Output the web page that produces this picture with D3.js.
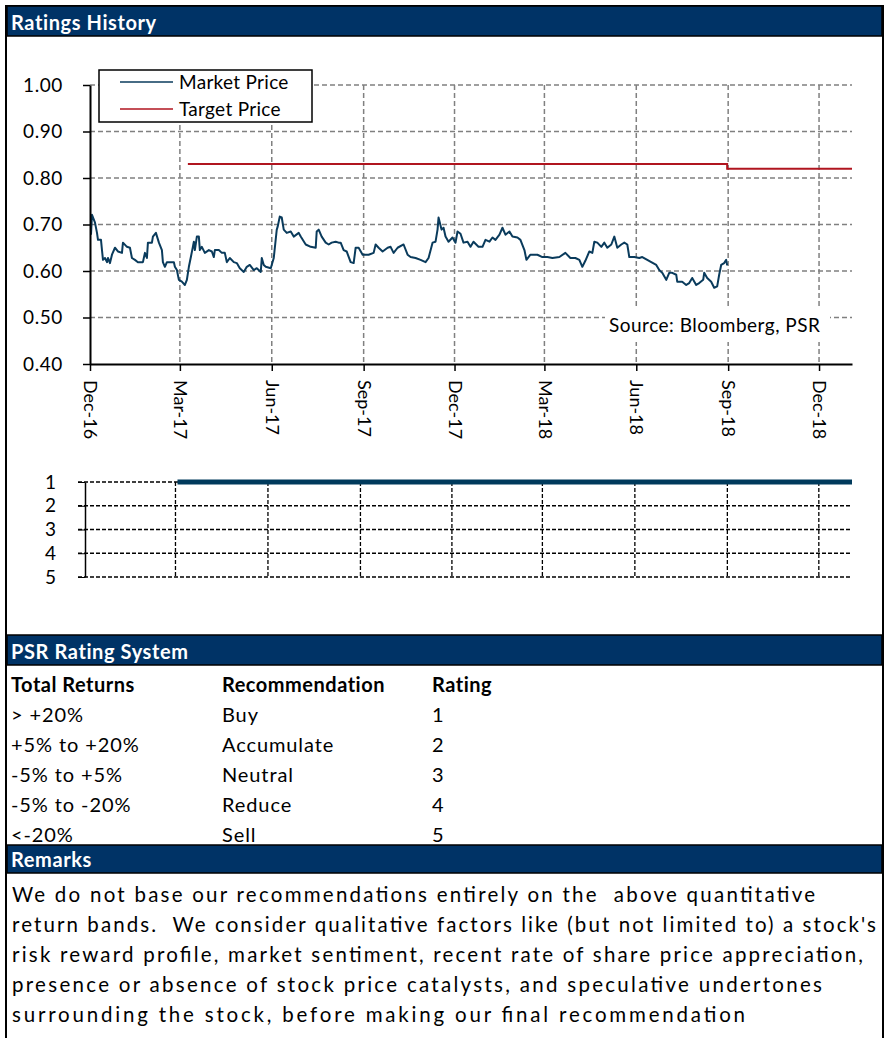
<!DOCTYPE html>
<html>
<head>
<meta charset="utf-8">
<script src="https://cdn.jsdelivr.net/npm/d3@7"></script>
<style>
  body { margin: 0; background: #fff; }
  svg { display: block; font-family: Lato, "Open Sans", sans-serif; }
</style>
</head>
<body>
<svg width="888" height="1038"></svg>
<script>
// market price, roughly every few days
var marketPrice = [
  ["2016-12-02",0.678],["2016-12-03",0.721],["2016-12-06",0.704],["2016-12-08",0.682],["2016-12-09",0.667],
  ["2016-12-12",0.667],["2016-12-13",0.645],["2016-12-14",0.624],["2016-12-16",0.628],["2016-12-18",0.619],
  ["2016-12-19",0.628],["2016-12-21",0.617],["2016-12-23",0.635],["2016-12-26",0.650],["2016-12-29",0.642],
  ["2017-01-02",0.639],["2017-01-03",0.661],["2017-01-07",0.652],["2017-01-10",0.650],["2017-01-12",0.628],
  ["2017-01-15",0.624],["2017-01-18",0.619],["2017-01-23",0.619],["2017-01-25",0.639],["2017-01-27",0.628],
  ["2017-01-28",0.661],["2017-02-01",0.661],["2017-02-02",0.674],["2017-02-05",0.682],["2017-02-08",0.661],
  ["2017-02-11",0.645],["2017-02-12",0.619],["2017-02-14",0.609],["2017-02-16",0.619],["2017-02-23",0.619],
  ["2017-02-24",0.609],["2017-02-26",0.602],["2017-02-28",0.581],["2017-03-03",0.577],["2017-03-06",0.570],
  ["2017-03-08",0.581],["2017-03-10",0.609],["2017-03-12",0.630],["2017-03-14",0.652],["2017-03-15",0.663],
  ["2017-03-16",0.645],["2017-03-18",0.674],["2017-03-20",0.674],["2017-03-21",0.645],["2017-03-23",0.652],
  ["2017-03-26",0.639],["2017-03-30",0.645],["2017-04-02",0.642],["2017-04-04",0.630],["2017-04-05",0.645],
  ["2017-04-09",0.645],["2017-04-12",0.639],["2017-04-15",0.639],["2017-04-17",0.619],["2017-04-20",0.628],
  ["2017-04-24",0.619],["2017-04-27",0.617],["2017-04-30",0.606],["2017-05-04",0.598],["2017-05-07",0.609],
  ["2017-05-10",0.613],["2017-05-14",0.602],["2017-05-17",0.606],["2017-05-21",0.598],["2017-05-22",0.628],
  ["2017-05-24",0.613],["2017-05-26",0.609],["2017-05-31",0.606],["2017-06-03",0.628],["2017-06-06",0.689],
  ["2017-06-07",0.696],["2017-06-09",0.717],["2017-06-11",0.715],["2017-06-13",0.689],["2017-06-16",0.682],
  ["2017-06-20",0.685],["2017-06-23",0.674],["2017-06-28",0.682],["2017-06-30",0.674],["2017-07-05",0.657],
  ["2017-07-10",0.652],["2017-07-15",0.650],["2017-07-16",0.685],["2017-07-18",0.689],["2017-07-21",0.674],
  ["2017-07-25",0.661],["2017-07-28",0.657],["2017-07-31",0.661],["2017-08-04",0.663],["2017-08-07",0.661],
  ["2017-08-09",0.661],["2017-08-12",0.645],["2017-08-15",0.642],["2017-08-19",0.619],["2017-08-22",0.617],
  ["2017-08-24",0.650],["2017-08-27",0.650],["2017-08-31",0.635],["2017-09-06",0.635],["2017-09-11",0.639],
  ["2017-09-13",0.657],["2017-09-16",0.650],["2017-09-20",0.642],["2017-09-25",0.650],["2017-09-28",0.652],
  ["2017-10-01",0.639],["2017-10-05",0.650],["2017-10-11",0.657],["2017-10-15",0.635],["2017-10-18",0.630],
  ["2017-10-23",0.628],["2017-10-28",0.624],["2017-11-02",0.619],["2017-11-05",0.628],["2017-11-09",0.661],
  ["2017-11-12",0.663],["2017-11-14",0.689],["2017-11-15",0.715],["2017-11-18",0.689],["2017-11-20",0.693],
  ["2017-11-22",0.674],["2017-11-25",0.663],["2017-11-29",0.672],["2017-12-02",0.661],["2017-12-04",0.685],
  ["2017-12-07",0.680],["2017-12-10",0.661],["2017-12-14",0.663],["2017-12-17",0.652],["2017-12-20",0.663],
  ["2017-12-25",0.652],["2017-12-29",0.652],["2018-01-01",0.667],["2018-01-05",0.663],["2018-01-08",0.672],
  ["2018-01-11",0.667],["2018-01-15",0.678],["2018-01-18",0.693],["2018-01-21",0.678],["2018-01-25",0.685],
  ["2018-01-28",0.674],["2018-02-02",0.672],["2018-02-05",0.667],["2018-02-09",0.645],["2018-02-11",0.624],
  ["2018-02-15",0.635],["2018-02-22",0.635],["2018-02-27",0.630],["2018-03-04",0.630],["2018-03-09",0.628],
  ["2018-03-16",0.630],["2018-03-22",0.639],["2018-03-27",0.628],["2018-04-01",0.628],["2018-04-05",0.624],
  ["2018-04-08",0.609],["2018-04-11",0.622],["2018-04-15",0.642],["2018-04-18",0.639],["2018-04-20",0.663],
  ["2018-04-23",0.661],["2018-04-27",0.652],["2018-04-30",0.661],["2018-05-03",0.650],["2018-05-07",0.657],
  ["2018-05-10",0.674],["2018-05-13",0.650],["2018-05-17",0.657],["2018-05-20",0.661],["2018-05-23",0.657],
  ["2018-05-25",0.630],["2018-05-30",0.630],["2018-06-04",0.628],["2018-06-07",0.630],["2018-06-12",0.624],
  ["2018-06-16",0.619],["2018-06-21",0.613],["2018-06-24",0.602],["2018-06-27",0.596],["2018-07-01",0.581],
  ["2018-07-04",0.596],["2018-07-07",0.596],["2018-07-11",0.592],["2018-07-12",0.577],["2018-07-17",0.577],
  ["2018-07-21",0.570],["2018-07-24",0.574],["2018-07-27",0.585],["2018-07-31",0.570],["2018-08-03",0.574],
  ["2018-08-07",0.581],["2018-08-08",0.596],["2018-08-11",0.585],["2018-08-15",0.577],["2018-08-18",0.564],
  ["2018-08-21",0.567],["2018-08-23",0.592],["2018-08-25",0.613],["2018-08-28",0.617],["2018-08-30",0.624],
  ["2018-08-31",0.612]
];

var targetPrice = [
  ["2017-03-09",0.83],["2018-08-31",0.83],["2018-08-31",0.82],["2019-01-03",0.82]
];

var ratingHistory = [["2017-03-03",1],["2019-01-03",1]];

var priceTicks = [0.40, 0.50, 0.60, 0.70, 0.80, 0.90, 1.00];
var ratingTicks = [1, 2, 3, 4, 5];
var dateStart = "2016-12-01", dateEnd = "2019-01-03";
var legendLabels = ["Market Price", "Target Price"];

var tableHead = ["Total Returns", "Recommendation", "Rating"];
var totalReturns = ["> +20%", "+5% to +20%", "-5% to +5%", "-5% to -20%", "<-20%"];
var recommendations = ["Buy", "Accumulate", "Neutral", "Reduce", "Sell"];
var ratings = ["1", "2", "3", "4", "5"];

var remarks = [
  "We do not base our recommendations entirely on the  above quantitative",
  "return bands.  We consider qualitative factors like (but not limited to) a stock's",
  "risk reward profile, market sentiment, recent rate of share price appreciation,",
  "presence or absence of stock price catalysts, and speculative undertones",
  "surrounding the stock, before making our final recommendation"
];
// widths of the remark lines in the picture
var remarkWidths = [803, 864, 851, 810, 733];

var navy = "#003366", blue = "#0a3b5c", red = "#b0151f";
var parse = d3.timeParse("%Y-%m-%d");
var svg = d3.select("svg");

// frame and section bars
svg.append("rect").attr("x", 6).attr("y", 6).attr("width", 877).attr("height", 1040)
  .attr("fill", "none").attr("stroke", "#000").attr("stroke-width", 2);

function bar(y, h, label) {
  svg.append("rect").attr("x", 7).attr("y", y).attr("width", 875).attr("height", h)
    .attr("fill", navy).attr("stroke", "#000").attr("stroke-width", 1.5);
  svg.append("text").attr("x", 11).attr("y", y + h - 6)
    .attr("fill", "#fff").attr("font-weight", "bold").attr("font-size", 20).attr("letter-spacing", 0.6)
    .text(label);
}
bar(6, 30, "Ratings History");
bar(635, 30, "PSR Rating System");
bar(845, 28, "Remarks");

// ---- price chart
var x = d3.scaleTime().domain([parse(dateStart), parse(dateEnd)]).range([90, 852]);
var y = d3.scaleLinear().domain([0.4, 1.0]).range([364, 85]);
var quarters = d3.timeMonth.range(parse(dateStart), parse(dateEnd), 3);
var fmt = d3.timeFormat("%b-%y");

var g = svg.append("g");
g.selectAll("line.hgrid").data(priceTicks.slice(1)).enter().append("line")
  .attr("x1", 90).attr("x2", 852).attr("y1", d => y(d)).attr("y2", d => y(d))
  .attr("stroke", "#808080").attr("stroke-width", 1.5).attr("stroke-dasharray", "5,3");
g.selectAll("line.vgrid").data(quarters.slice(1)).enter().append("line")
  .attr("x1", d => x(d)).attr("x2", d => x(d)).attr("y1", y(1.0)).attr("y2", y(0.4))
  .attr("stroke", "#808080").attr("stroke-width", 1.5).attr("stroke-dasharray", "5,3");

// source label sits on a white box over the grid
g.append("rect").attr("x", 605).attr("y", 307).attr("width", 225).attr("height", 35).attr("fill", "#fff");
g.append("text").attr("x", 609).attr("y", 332).attr("font-size", 19).attr("letter-spacing", 0.5)
  .text("Source: Bloomberg, PSR");

var line = d3.line().x(d => x(parse(d[0]))).y(d => y(d[1]));
g.append("path").datum(targetPrice).attr("d", line)
  .attr("fill", "none").attr("stroke", red).attr("stroke-width", 2);
g.append("path").datum(marketPrice).attr("d", line)
  .attr("fill", "none").attr("stroke", blue).attr("stroke-width", 2).attr("stroke-linejoin", "round");

var yAxis = g.append("g").attr("transform", "translate(90,0)")
  .call(d3.axisLeft(y).tickValues(priceTicks).tickFormat(d3.format(".2f")).tickSize(7).tickSizeOuter(0).tickPadding(20));
var xAxis = g.append("g").attr("transform", "translate(0,364)")
  .call(d3.axisBottom(x).tickValues(quarters).tickFormat(fmt).tickSize(7).tickSizeOuter(0));
xAxis.selectAll("text").attr("transform", "rotate(90)").attr("x", 16).attr("y", 0).attr("dy", "0.35em")
  .style("text-anchor", "start");
[yAxis, xAxis].forEach(function(a) {
  a.select(".domain").attr("stroke-width", 2);
  a.selectAll(".tick line").attr("stroke-width", 1.5);
  a.selectAll("text").attr("font-size", 19).attr("font-family", "Lato").attr("fill", "#000").attr("letter-spacing", 0.6);
});
xAxis.selectAll("text").attr("font-size", 18).attr("letter-spacing", 0);

// legend
var lg = g.append("g");
lg.append("rect").attr("x", 99).attr("y", 70).attr("width", 213).attr("height", 52)
  .attr("fill", "#fff").attr("stroke", "#000").attr("stroke-width", 1.5);
lg.selectAll("line").data(legendLabels).enter().append("line")
  .attr("x1", 120).attr("x2", 173).attr("y1", (d, i) => 82 + i * 27).attr("y2", (d, i) => 82 + i * 27)
  .attr("stroke", (d, i) => i ? red : blue).attr("stroke-width", 1.5);
lg.selectAll("text").data(legendLabels).enter().append("text")
  .attr("x", 179).attr("y", (d, i) => 82 + i * 27).attr("dy", "0.35em")
  .attr("font-size", 19).attr("letter-spacing", 0.3).text(d => d);

// ---- rating chart
var xr = d3.scaleTime().domain([parse(dateStart), parse(dateEnd)]).range([85, 852]);
var yr = d3.scaleLinear().domain([1, 5]).range([482, 577]);
var rg = svg.append("g");
rg.selectAll("line.h").data(ratingTicks).enter().append("line")
  .attr("x1", 78).attr("x2", 850).attr("y1", d => yr(d)).attr("y2", d => yr(d))
  .attr("stroke", "#000").attr("stroke-width", 1.3).attr("stroke-dasharray", "4,2");
rg.selectAll("line.v").data(quarters.slice(1)).enter().append("line")
  .attr("x1", d => xr(d)).attr("x2", d => xr(d)).attr("y1", yr(1)).attr("y2", yr(5))
  .attr("stroke", "#000").attr("stroke-width", 1.3).attr("stroke-dasharray", "4,2");
var rAxis = rg.append("g").attr("transform", "translate(85,0)")
  .call(d3.axisLeft(yr).tickValues(ratingTicks).tickFormat(d3.format("d")).tickSize(7).tickSizeOuter(0).tickPadding(22));
rAxis.select(".domain").attr("stroke-width", 1.5);
rAxis.selectAll("text").attr("font-size", 19).attr("font-family", "Lato").attr("fill", "#000");
rg.append("path").datum(ratingHistory)
  .attr("d", d3.line().x(d => xr(parse(d[0]))).y(d => yr(d[1])))
  .attr("fill", "none").attr("stroke", "#003a5c").attr("stroke-width", 5);

// ---- rating system table
var cols = [11, 222, 432];
var tb = svg.append("g").attr("font-size", 20).attr("letter-spacing", 0.9);
tb.selectAll("text.h").data(tableHead).enter().append("text")
  .attr("x", (d, i) => cols[i]).attr("y", 692).attr("font-weight", "bold").attr("letter-spacing", 0.5).text(d => d);
[totalReturns, recommendations, ratings].forEach(function(col, c) {
  tb.selectAll("text.c" + c).data(col).enter().append("text")
    .attr("x", cols[c]).attr("y", (d, i) => 722 + i * 30).text(d => d);
});

// ---- remarks
svg.append("g").attr("font-size", 20.5).selectAll("text").data(remarks).enter().append("text")
  .attr("x", 12).attr("y", (d, i) => 902 + i * 30)
  .attr("textLength", (d, i) => remarkWidths[i]).attr("lengthAdjust", "spacing")
  .attr("xml:space", "preserve").style("white-space", "pre").text(d => d);
</script>
</body>
</html>
